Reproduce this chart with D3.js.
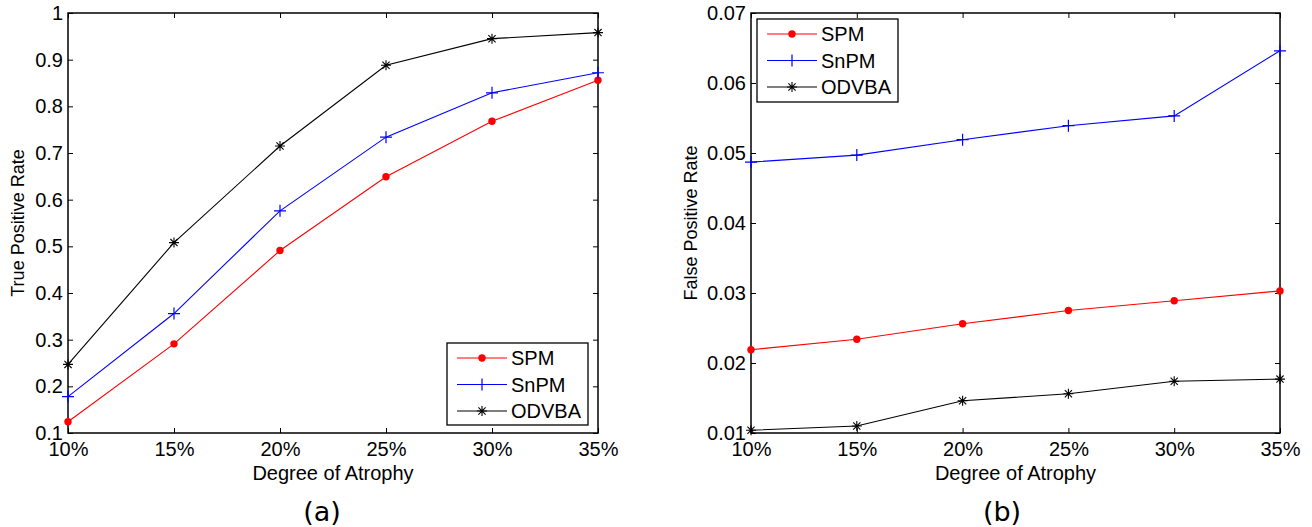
<!DOCTYPE html>
<html><head><meta charset="utf-8">
<script src="https://cdn.jsdelivr.net/npm/d3@7"></script>
<style>body{margin:0;background:#fff}svg{display:block}</style>
</head><body>
<svg id="c" width="1312" height="527"></svg>
<script>
const categories = ["10%","15%","20%","25%","30%","35%"];
const seriesNames = ["SPM","SnPM","ODVBA"];
const tprSPM   = [0.124,0.291,0.491,0.649,0.768,0.856];
const tprSnPM  = [0.178,0.356,0.576,0.734,0.829,0.872];
const tprODVBA = [0.247,0.508,0.715,0.888,0.945,0.958];
const fprSPM   = [0.0219,0.0234,0.0256,0.0275,0.0289,0.0303];
const fprSnPM  = [0.0487,0.0497,0.0519,0.0539,0.0553,0.0646];
const fprODVBA = [0.0104,0.0110,0.0146,0.0156,0.0174,0.0177];
const tprTicks = [0.1,0.2,0.3,0.4,0.5,0.6,0.7,0.8,0.9,1];
const fprTicks = [0.01,0.02,0.03,0.04,0.05,0.06,0.07];
const colors = {SPM:"#ff0000", SnPM:"#0000ff", ODVBA:"#000000"};
const SANS = "'Liberation Sans', Arial, sans-serif";

const svg = d3.select("#c");

function marker(g, name, x, y){
  const c = colors[name];
  if(name==="SPM"){
    g.append("circle").attr("cx",x).attr("cy",y).attr("r",3.7).attr("fill",c);
  } else if(name==="SnPM"){
    g.append("path").attr("d",`M${x-6},${y}H${x+6}M${x},${y-6}V${y+6}`).attr("stroke",c).attr("stroke-width",1.2);
  } else {
    const r=5, d=r*0.72;
    g.append("path").attr("d",`M${x-r},${y}H${x+r}M${x},${y-r}V${y+r}M${x-d},${y-d}L${x+d},${y+d}M${x-d},${y+d}L${x+d},${y-d}`).attr("stroke",c).attr("stroke-width",1.1);
  }
}

function panel(opt){
  const {left,right,top,bottom,domain,ticks,fmt,series,ylabel,ylabX,caption,capX,legend} = opt;
  const g = svg.append("g").style("font-family",SANS);
  const x = d3.scalePoint().domain(categories).range([left,right]);
  const y = d3.scaleLinear().domain(domain).range([bottom,top]);
  g.append("rect").attr("x",left).attr("y",top).attr("width",right-left).attr("height",bottom-top)
    .attr("fill","none").attr("stroke","#000").attr("stroke-width",1.5);
  const tl=5;
  const xb = g.append("g").attr("transform",`translate(0,${bottom})`)
    .call(d3.axisBottom(x).tickSizeInner(-tl).tickSizeOuter(0).tickPadding(9));
  xb.select(".domain").remove();
  xb.selectAll("text").attr("fill","#000").style("font-size","20px").style("font-family",SANS);
  const xt = g.append("g").attr("transform",`translate(0,${top})`)
    .call(d3.axisTop(x).tickSizeInner(-tl).tickSizeOuter(0).tickFormat(""));
  xt.select(".domain").remove();
  const yl = g.append("g").attr("transform",`translate(${left},0)`)
    .call(d3.axisLeft(y).tickValues(ticks).tickFormat(fmt).tickSizeInner(-tl).tickSizeOuter(0).tickPadding(5));
  yl.select(".domain").remove();
  yl.selectAll("text").attr("fill","#000").style("font-size","20px").style("font-family",SANS);
  const yr = g.append("g").attr("transform",`translate(${right},0)`)
    .call(d3.axisRight(y).tickValues(ticks).tickFormat("").tickSizeInner(-tl).tickSizeOuter(0));
  yr.select(".domain").remove();
  g.selectAll(".tick line").attr("stroke","#000");
  const line = d3.line().x((d,i)=>x(categories[i])).y(d=>y(d));
  series.forEach(([name,vals])=>{
    g.append("path").attr("d",line(vals)).attr("fill","none").attr("stroke",colors[name]).attr("stroke-width",1.1);
    vals.forEach((v,i)=>marker(g,name,x(categories[i]),y(v)));
  });
  g.append("text").attr("x",(left+right)/2).attr("y",bottom+47).attr("text-anchor","middle")
    .style("font-size","20px").text("Degree of Atrophy");
  g.append("text").attr("transform",`translate(${ylabX},${(top+bottom)/2}) rotate(-90)`)
    .attr("text-anchor","middle").style("font-size","18px").text(ylabel);
  g.append("text").attr("x",capX).attr("y",521).attr("text-anchor","middle")
    .style("font-size","27px").style("font-family","'DejaVu Sans', Verdana, sans-serif").text(caption);
  const lg = g.append("g");
  lg.append("rect").attr("x",legend.x).attr("y",legend.y).attr("width",legend.w).attr("height",legend.h)
    .attr("fill","#fff").attr("stroke","#000").attr("stroke-width",1.3);
  seriesNames.forEach((n,i)=>{
    const yy = legend.y+15+i*26.5;
    lg.append("line").attr("x1",legend.x+10).attr("x2",legend.x+60).attr("y1",yy).attr("y2",yy)
      .attr("stroke",colors[n]).attr("stroke-width",1.1);
    marker(lg,n,legend.x+35,yy);
    lg.append("text").attr("x",legend.x+64).attr("y",yy).attr("dy","0.36em").style("font-size","20px").text(n);
  });
}

panel({left:68,right:598,top:13,bottom:433,domain:[0.1,1],ticks:tprTicks,
  fmt:d=>d===1?"1":d3.format(".1f")(d),
  series:[["SPM",tprSPM],["SnPM",tprSnPM],["ODVBA",tprODVBA]],
  ylabel:"True Positive Rate",ylabX:24,caption:"(a)",capX:322,
  legend:{x:447,y:343,w:141,h:82}});
panel({left:751,right:1280,top:13,bottom:433,domain:[0.01,0.07],ticks:fprTicks,
  fmt:d3.format(".2f"),
  series:[["SPM",fprSPM],["SnPM",fprSnPM],["ODVBA",fprODVBA]],
  ylabel:"False Positive Rate",ylabX:697,caption:"(b)",capX:1002,
  legend:{x:757,y:19,w:141,h:83}});
</script>
</body></html>
